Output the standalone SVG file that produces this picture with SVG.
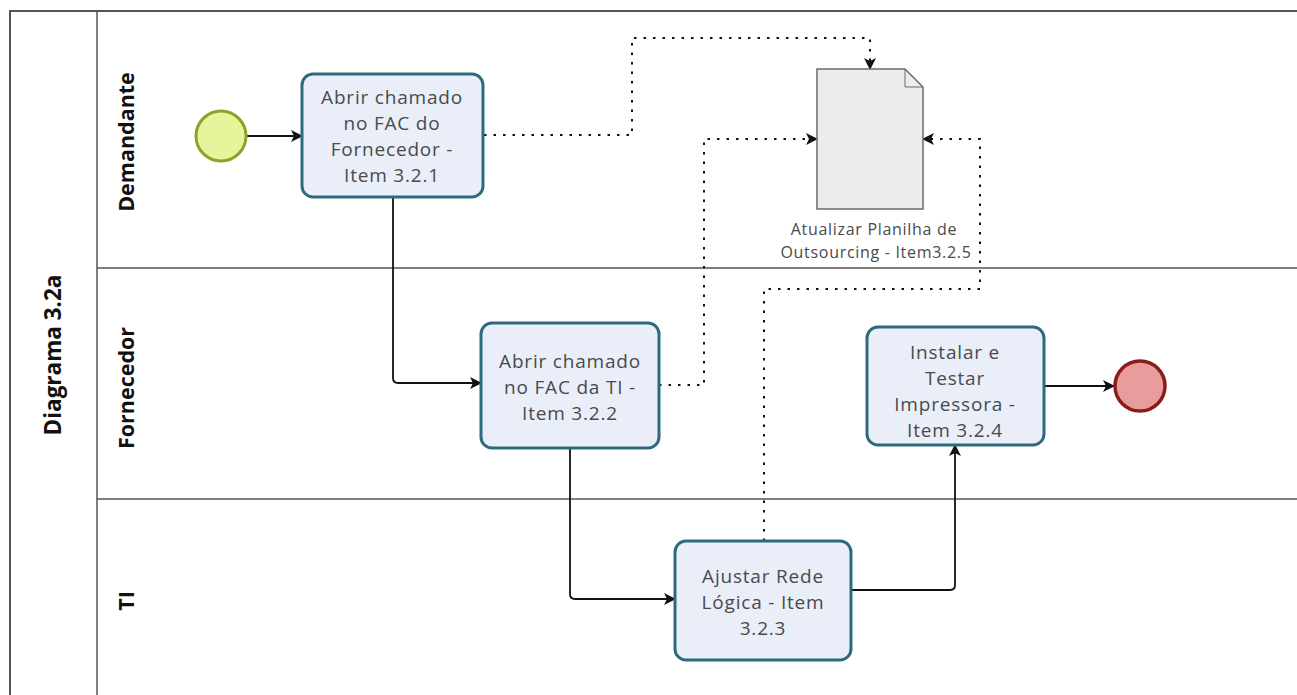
<svg xmlns="http://www.w3.org/2000/svg" width="1297" height="695" viewBox="0 0 1297 695">
  <defs>
    <marker id="arrow" viewBox="0 0 12 12" refX="11" refY="6" markerWidth="12" markerHeight="12" markerUnits="userSpaceOnUse" orient="auto">
      <path d="M0,0 L12,6 L0,12 L3,6 z" fill="#111"/>
    </marker>
    <style>
      .pool { fill: none; stroke: #555; stroke-width: 2; }
      .lane-line { stroke: #555; stroke-width: 1.5; }
      .lane-label { font-family: "Open Sans", "DejaVu Sans", sans-serif; font-weight: bold; font-size: 21.5px; fill: #111; text-anchor: middle; }
      .pool-label { font-size: 22.5px; }
      .task rect { fill: #e9eef9; stroke: #2e6a7e; stroke-width: 3; }
      .task text, .doc text { font-family: "Open Sans", "DejaVu Sans", sans-serif; fill: #4a4a4a; text-anchor: middle; }
      .task text { font-size: 19px; letter-spacing: 0.8px; }
      .doc text { font-size: 16px; letter-spacing: 0.7px; }
      .flow { fill: none; stroke: #111; stroke-width: 1.8; marker-end: url(#arrow); }
      .assoc { fill: none; stroke: #111; stroke-width: 2; stroke-dasharray: 2.5 7; marker-end: url(#arrow); }
    </style>
  </defs>

  <rect width="1297" height="695" fill="#ffffff"/>

  <!-- pool frame and lanes -->
  <g id="pool">
    <path class="pool" d="M1297,11 H10 V695"/>
    <line class="lane-line" x1="97" y1="11" x2="97" y2="695"/>
    <line class="lane-line" x1="97" y1="268" x2="1297" y2="268"/>
    <line class="lane-line" x1="97" y1="499" x2="1297" y2="499"/>
    <text class="lane-label pool-label" transform="translate(61,355) rotate(-90)">Diagrama 3.2a</text>
    <text class="lane-label" transform="translate(134,142) rotate(-90)">Demandante</text>
    <text class="lane-label" transform="translate(134,388) rotate(-90)">Fornecedor</text>
    <text class="lane-label" transform="translate(134,601) rotate(-90)">TI</text>
  </g>

  <!-- connectors -->
  <g id="connectors">
    <path class="flow" d="M247,136 H302"/>
    <path class="flow" d="M393,197 V378 Q393,383 398,383 H481"/>
    <path class="flow" d="M570,448 V594 Q570,599 575,599 H675"/>
    <path class="flow" d="M851,590 H950 Q955,590 955,585 V445"/>
    <path class="flow" d="M1044,386 H1114"/>
    <path class="assoc" d="M484,135 H632 V38 H870 V69"/>
    <path class="assoc" d="M659,385 H704 V139 H817"/>
    <path class="assoc" d="M764,541 V289 H980 V139 H923"/>
  </g>

  <!-- events -->
  <g id="start">
    <circle cx="221" cy="136" r="25" fill="#e6f59b" stroke="#88a52a" stroke-width="3"/>
  </g>
  <g id="end">
    <circle cx="1140" cy="386" r="25" fill="#e89c9c" stroke="#8a1c1c" stroke-width="3.5"/>
  </g>

  <!-- tasks -->
  <g id="task1" class="task">
    <rect x="302" y="74" width="181" height="123" rx="11"/>
    <text x="392" y="104">Abrir chamado</text>
    <text x="392" y="130">no FAC do</text>
    <text x="392" y="156">Fornecedor -</text>
    <text x="392" y="182">Item 3.2.1</text>
  </g>
  <g id="task2" class="task">
    <rect x="481" y="323" width="178" height="125" rx="11"/>
    <text x="570" y="368">Abrir chamado</text>
    <text x="570" y="394">no FAC da TI -</text>
    <text x="570" y="420">Item 3.2.2</text>
  </g>
  <g id="task3" class="task">
    <rect x="675" y="541" width="176" height="119" rx="11"/>
    <text x="763" y="583">Ajustar Rede</text>
    <text x="763" y="609">Lógica - Item</text>
    <text x="763" y="635">3.2.3</text>
  </g>
  <g id="task4" class="task">
    <rect x="867" y="327" width="177" height="118" rx="11"/>
    <text x="955" y="359">Instalar e</text>
    <text x="955" y="385">Testar</text>
    <text x="955" y="411">Impressora -</text>
    <text x="955" y="437">Item 3.2.4</text>
  </g>

  <!-- data object -->
  <g id="doc" class="doc">
    <path d="M817,69 H905 L923,87 V209 H817 Z" fill="#ececec" stroke="#6a6a6a" stroke-width="1.5"/>
    <path d="M905,69 V87 H923" fill="none" stroke="#6a6a6a" stroke-width="1"/>
    <text x="874" y="235">Atualizar Planilha de</text>
    <text x="876" y="258">Outsourcing - Item3.2.5</text>
  </g>
</svg>
